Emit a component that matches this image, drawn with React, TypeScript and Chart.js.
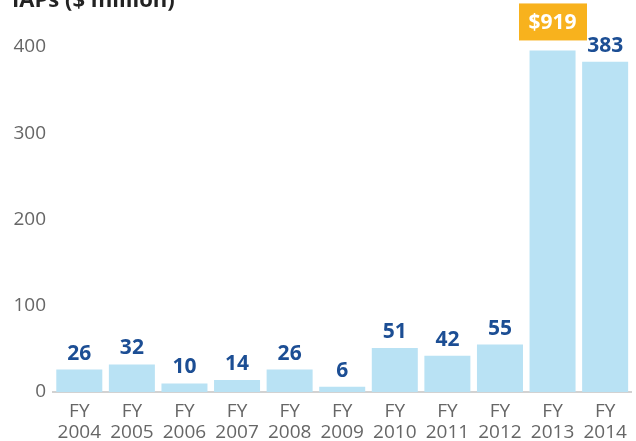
import React, { useEffect, useRef } from "react";
import { Chart, registerables } from "chart.js";

Chart.register(...registerables);

const categories = ["2004", "2005", "2006", "2007", "2008", "2009", "2010", "2011", "2012", "2013", "2014"];
const values = [26, 32, 10, 14, 26, 6, 51, 42, 55, 919, 383];
const barCap = 396; // bars above this are drawn truncated (broken bar)
const yTicks = [0, 100, 200, 300, 400];
const title = "IAPs ($ million)";

const FONT = "'Open Sans', 'Noto Sans', sans-serif";

export default function App() {
  const ref = useRef<HTMLCanvasElement | null>(null);

  useEffect(() => {
    document.body.style.margin = "0";
    const canvas = ref.current!;
    const labelPlugin = {
      id: "valueLabels",
      afterDatasetsDraw(chart: any) {
        const ctx = chart.ctx;
        const meta = chart.getDatasetMeta(0);
        ctx.save();
        meta.data.forEach((bar: any, i: number) => {
          const v = values[i];
          const x = bar.x;
          const y = bar.y;
          if (v > barCap) {
            const text = "$" + v;
            ctx.font = `bold 21px ${FONT}`;
            const w = 68;
            const h = 37;
            ctx.fillStyle = "#F8B21D";
            ctx.fillRect(Math.round(x - w / 2), y - 10 - h, w, h);
            ctx.fillStyle = "#ffffff";
            ctx.textAlign = "center";
            ctx.textBaseline = "middle";
            ctx.fillText(text, x, y - 10 - h / 2 + 1);
          } else {
            ctx.font = `bold 21px ${FONT}`;
            ctx.fillStyle = "#1C4E94";
            ctx.textAlign = "center";
            ctx.textBaseline = "alphabetic";
            ctx.fillText(String(v), x, y - 10);
          }
        });
        // title (partly cut off at the top edge, as in the source)
        ctx.font = `bold 22px ${FONT}`;
        ctx.fillStyle = "#222222";
        ctx.textAlign = "left";
        ctx.textBaseline = "alphabetic";
        ctx.fillText(title, 12, 7);
        ctx.restore();
      },
    };

    const chart = new Chart(canvas, {
      type: "bar",
      data: {
        labels: categories.map((c) => ["FY", c]),
        datasets: [
          {
            data: values.map((v) => Math.min(v, barCap)),
            backgroundColor: "#B9E2F4",
            barPercentage: 0.875,
            categoryPercentage: 1,
          },
        ],
      },
      options: {
        animation: false,
        responsive: false,
        maintainAspectRatio: false,
        events: [],
        layout: { padding: { top: 47, right: 3, left: 0, bottom: 0 } },
        plugins: {
          legend: { display: false },
          tooltip: { enabled: false },
          title: { display: false },
        },
        scales: {
          x: {
            grid: { display: false, drawTicks: false },
            border: { display: true, color: "#D2D2D2", width: 2 },
            ticks: {
              color: "#666666",
              font: { family: FONT, size: 19, lineHeight: 1.1 },
              padding: 9,
              maxRotation: 0,
              autoSkip: false,
            },
            afterFit(scale: any) {
              scale.height = 49;
            },
          },
          y: {
            min: 0,
            max: 400,
            afterBuildTicks(scale: any) {
              scale.ticks = yTicks.map((v) => ({ value: v }));
            },
            grid: { display: false, drawTicks: false },
            border: { display: false },
            ticks: {
              color: "#666666",
              font: { family: FONT, size: 19 },
              padding: 7,
            },
            afterFit(scale: any) {
              scale.width = 53;
            },
          },
        },
      },
      plugins: [labelPlugin],
    });
    return () => chart.destroy();
  }, []);

  return (
    <div style={{ position: "absolute", left: 0, top: 0, width: 636, height: 441 }}>
      <canvas ref={ref} width={636} height={441} style={{ width: 636, height: 441 }} />
    </div>
  );
}
